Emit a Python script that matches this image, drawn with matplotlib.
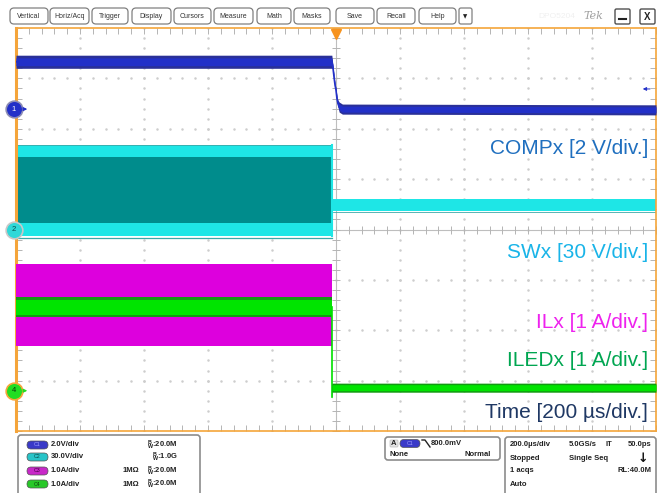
import matplotlib
matplotlib.use("Agg")
import matplotlib.pyplot as plt
import numpy as np
from matplotlib.patches import FancyBboxPatch
from matplotlib.transforms import blended_transform_factory

plt.rcParams["font.family"] = ["Liberation Sans", "DejaVu Sans"]

# --- scope settings -------------------------------------------------------
ch_scale = {"C1": 2.0, "C2": 30.0, "C3": 1.0, "C4": 1.0}      # units / div
ch_pos = {"C1": 2.39, "C2": 0.0, "C3": -3.2, "C4": -3.2}      # div
trig_level = 0.8                                               # V on C1
time_per_div = 200.0                                           # us

# --- traces (time in us, values in V or A) --------------------------------
comp_t = [-1000, -13, -10, -6, -3, 0, 3, 6, 10, 20, 1000]
comp_v = [1.88, 1.88, 1.70, 1.25, 0.95, 0.75, 0.42, 0.22, 0.08, 0.0, -0.03]
comp_hw = [0.26, 0.26, 0.10, 0.08, 0.08, 0.08, 0.10, 0.14, 0.20, 0.20, 0.20]

sw_on_t = [-1000, -13]
sw_high = [46.5, 46.5]
sw_low = [0.0, 0.0]
sw_off_t = [-9, 1000]
sw_off = [14.5, 14.5]
sw_hw = 3.6

il_on_t = [-1000, -13]
il_max = [2.52, 2.52]
il_min = [0.89, 0.89]
il_off_t = [-12, 1000]
il_off = [0.05, 0.05]

led_on_t = [-1000, -13]
led_on = [1.66, 1.66]
led_off_t = [-13, -12, 1000]
led_off = [-0.08, 0.06, 0.06]
led_drop = [1.66, -0.12]
led_hw = 0.2


def to_div(vals, ch):
    return np.asarray(vals, dtype=float) / ch_scale[ch] + ch_pos[ch]


W, H = 664, 493
fig = plt.figure(figsize=(W / 100, H / 100), dpi=100)
fig.patch.set_facecolor("white")

x0, y_top, y_bot, x1 = 16, 28, 431, 656
ax = fig.add_axes([x0 / W, (H - y_bot) / H, (x1 - x0) / W, (y_bot - y_top) / H])
ax.set_xlim(-5 * time_per_div, 5 * time_per_div)
ax.set_ylim(-4, 4)

orange = "#F5A53A"
for side, sp in ax.spines.items():
    sp.set_color(orange)
    sp.set_linewidth(2.2 if side == "left" else 1.2)

# edge ticks every minor division
minor_x = np.arange(-1000, 1001, time_per_div / 5)
minor_y = np.arange(-4, 4.01, 0.2)
ax.set_xticks(minor_x)
ax.set_yticks(minor_y)
ax.tick_params(direction="in", length=4, width=0.7, color="#B4B4B4",
               top=True, right=True, labelbottom=False, labelleft=False)

# dotted graticule
grid_c = "#CDCDCD"
for gx in np.arange(-800, 801, time_per_div):
    if gx != 0:
        ax.plot(np.full_like(minor_y, gx), minor_y, ls="none", marker="o",
                ms=0.8, color=grid_c, zorder=1)
for gy in np.arange(-3, 4, 1):
    if gy != 0:
        ax.plot(minor_x, np.full_like(minor_x, gy), ls="none", marker="o",
                ms=0.8, color=grid_c, zorder=1)
# centre crosshair
ax.axhline(0, color="#BEBEBE", lw=0.8, zorder=1)
ax.axvline(0, color="#BEBEBE", lw=0.8, zorder=1)
ax.plot(minor_x, np.zeros_like(minor_x), ls="none", marker="|", ms=6,
        mew=0.7, color="#B4B4B4", zorder=1)
ax.plot(np.zeros_like(minor_y), minor_y, ls="none", marker="_", ms=6,
        mew=0.7, color="#B4B4B4", zorder=1)

# --- SWx (C2) ---
teal, cyan, dteal = "#008C8C", "#1EE6E6", "#3AA8A8"
ax.fill_between(sw_on_t, to_div(sw_low, "C2"), to_div(sw_high, "C2"),
                color=teal, lw=0, zorder=2)
for lev in (sw_high, sw_low):
    ax.fill_between(sw_on_t, to_div(np.array(lev) - sw_hw, "C2"),
                    to_div(np.array(lev) + sw_hw, "C2"), color=cyan, lw=0, zorder=2)
ax.plot(sw_on_t, to_div(np.array(sw_low) - sw_hw * 1.4, "C2"), color=dteal, lw=0.9, zorder=2)
ax.plot(sw_on_t, to_div(np.array(sw_high) + sw_hw * 1.1, "C2"), color=dteal, lw=0.6, zorder=2)
ax.plot([sw_on_t[-1]] * 2, to_div([sw_low[-1] - sw_hw, sw_high[-1] + sw_hw], "C2"),
        color=cyan, lw=1.5, zorder=2)
ax.fill_between(sw_off_t, to_div(np.array(sw_off) - sw_hw, "C2"),
                to_div(np.array(sw_off) + sw_hw, "C2"), color=cyan, lw=0, zorder=2)
ax.plot(sw_off_t, to_div(np.array(sw_off) - sw_hw * 1.15, "C2"), color=dteal, lw=0.6, zorder=2)

# --- COMPx (C1) ---
cv, chw = np.array(comp_v), np.array(comp_hw)
ax.fill_between(comp_t, to_div(cv - chw, "C1"), to_div(cv + chw, "C1"),
                color="#2A3098", lw=0, zorder=3)
ax.fill_between(comp_t, to_div(cv - chw * 0.6, "C1"), to_div(cv + chw * 0.6, "C1"),
                color="#2230C8", lw=0, zorder=3)
ax.plot(comp_t, to_div(cv, "C1"), color="#2230C8", lw=1.2, zorder=3)

# --- ILx (C3) ---
ax.fill_between(il_on_t, to_div(il_min, "C3"), to_div(il_max, "C3"),
                color="#DD00DD", lw=0, zorder=4)
ax.fill_between(il_off_t, to_div(np.array(il_off) - 0.08, "C3"),
                to_div(np.array(il_off) + 0.08, "C3"), color="#DD00DD", lw=0, zorder=4)

# --- ILEDx (C4) ---
lv = np.array(led_on)
ax.fill_between(led_on_t, to_div(lv - led_hw, "C4"), to_div(lv + led_hw, "C4"),
                color="#129A12", lw=0, zorder=5)
ax.fill_between(led_on_t, to_div(lv - led_hw * 0.75, "C4"), to_div(lv + led_hw * 0.75, "C4"),
                color="#00E400", lw=0, zorder=5)
ax.plot([led_on_t[-1]] * 2, to_div(led_drop, "C4"), color="#00E000", lw=1.2, zorder=5)
lo = np.array(led_off)
ax.fill_between(led_off_t, to_div(lo - 0.09, "C4"), to_div(lo + 0.09, "C4"),
                color="#129A12", lw=0, zorder=5)
ax.fill_between(led_off_t, to_div(lo - 0.06, "C4"), to_div(lo + 0.06, "C4"),
                color="#00E400", lw=0, zorder=5)

# --- channel markers, trigger markers ---
tr = blended_transform_factory(ax.transAxes, ax.transData)
markers = [("C1", "1", "#2230C8", "#8C8CB4", "white"),
           ("C2", "2", "#30D8D8", "#C8C8C8", "#0A4A4A"),
           ("C4", "4", "#22DD22", orange, "#0A3A0A")]
for ch, lab, fc, ec, tc in markers:
    ax.plot([-0.003], [ch_pos[ch]], marker="o", ms=12, mfc=fc, mec=ec, mew=1.2,
            transform=tr, clip_on=False, zorder=10)
    ax.text(-0.003, ch_pos[ch], lab, transform=tr, ha="center", va="center",
            fontsize=5.5, color=tc, zorder=11, clip_on=False)
    if ch != "C2":
        ax.annotate("", xy=(0.022, ch_pos[ch]), xytext=(0.008, ch_pos[ch]),
                    xycoords=tr, textcoords=tr,
                    arrowprops=dict(arrowstyle="-|>", color=fc, lw=0.9,
                                    mutation_scale=5), zorder=10)
trig_y = trig_level / ch_scale["C1"] + ch_pos["C1"]
ax.annotate("", xy=(0.975, trig_y), xytext=(0.995, trig_y), xycoords=tr, textcoords=tr,
            arrowprops=dict(arrowstyle="-|>", color="#2230C8", lw=0.7, mutation_scale=5))
ax.plot([0], [0.985], marker="v", ms=7, color="#F7931E", transform=ax.get_xaxis_transform(),
        clip_on=False, zorder=10)

# --- overlay in pixel coordinates ---
ov = fig.add_axes([0, 0, 1, 1])
ov.set_xlim(0, W)
ov.set_ylim(H, 0)
ov.axis("off")
ov.patch.set_visible(False)


def box(xa, ya, xb, yb, r=3, ec="#808080", lw=0.9, fc="white"):
    ov.add_patch(FancyBboxPatch((xa, ya), xb - xa, yb - ya,
                                boxstyle=f"round,pad=0,rounding_size={r}",
                                ec=ec, fc=fc, lw=lw, zorder=3))


buttons = [("Vertical", 10, 48), ("Horiz/Acq", 50, 89), ("Trigger", 92, 128),
           ("Display", 132, 171), ("Cursors", 174, 211), ("Measure", 214, 253),
           ("Math", 257, 291), ("Masks", 294, 330), ("Save", 336, 374),
           ("Recall", 377, 415), ("Help", 419, 456)]
for name, xa, xb in buttons:
    box(xa, 8, xb, 24, r=4)
    ov.text((xa + xb) / 2, 16.5, name, ha="center", va="center", fontsize=5, color="#333333", zorder=4)
box(459, 8, 472, 24, r=2)
ov.text(465.5, 16.5, "▼", ha="center", va="center", fontsize=4, color="#222222",
        family="DejaVu Sans", zorder=4)
ov.text(557, 16.5, "DPO5204", ha="center", va="center", fontsize=6, color="#F0F0F0")
ov.text(593, 16, "Tek", ha="center", va="center", fontsize=8, color="#A0A0A0",
        family="DejaVu Serif", style="italic")
box(615, 9, 630, 24, r=1.5, ec="#505050", lw=1)
ov.plot([619, 626], [19, 19], color="#222222", lw=1.5, zorder=4)
box(640, 9, 655, 24, r=1.5, ec="#505050", lw=1)
ov.text(647.5, 16.5, "X", ha="center", va="center", fontsize=7, weight="bold", color="#222222", zorder=4)

# channel labels
labels = [("COMPx [2 V/div.]", 148, "#1F6FBF"), ("SWx [30 V/div.]", 253, "#19B4E8"),
          ("ILx [1 A/div.]", 322, "#EE22EE"), ("ILEDx [1 A/div.]", 360, "#00A651"),
          ("Time [200 µs/div.]", 412, "#1F3864")]
for txt, yy, col in labels:
    ov.text(648, yy, txt, ha="right", va="center", fontsize=15, color=col, zorder=5)

# bottom status panels
box(18, 435, 200, 500, r=3, ec="#8C8C8C", lw=1.2)
box(385, 437, 500, 460, r=3, ec="#8C8C8C", lw=1.2)
box(505, 437, 656, 500, r=3, ec="#8C8C8C", lw=1.2)

pill_cols = {"C1": ("#3A3AC8", "#A0A0FF"), "C2": ("#28C4C8", "#0A4A4A"),
             "C3": ("#C828C8", "#400040"), "C4": ("#28C828", "#0A400A")}
bw = {"C1": "20.0M", "C2": "1.0G", "C3": "20.0M", "C4": "20.0M"}
sty = dict(fontsize=5.5, weight="bold", color="#222222", va="center", zorder=5)
for i, ch in enumerate(["C1", "C2", "C3", "C4"]):
    yy = [445, 457, 471, 484][i]
    box(27, yy - 4, 48, yy + 4, r=4, ec="#555555", lw=0.5, fc=pill_cols[ch][0])
    ov.text(37.5, yy, ch, ha="center", va="center", fontsize=3.8, color=pill_cols[ch][1], zorder=6)
    unit = "V" if ch in ("C1", "C2") else "A"
    ov.text(51, yy, f"{ch_scale[ch]:.1f}{unit}/div", ha="left", **sty)
    ov.text(178, yy, r"$\mathregular{^B_W}$:" + bw[ch], ha="right", **sty)
    if ch in ("C3", "C4"):
        ov.text(123, yy, "1MΩ", ha="left", **sty)

box(390, 440, 398, 447, r=1, ec="#BBBBBB", lw=0.5, fc="#E4E4E4")
ov.text(394, 443.5, "A", ha="center", **sty)
box(400, 439.5, 420, 447.5, r=4, ec="#555555", lw=0.5, fc=pill_cols["C1"][0])
ov.text(410, 443.5, "C1", ha="center", va="center", fontsize=3.8, color="#A0A0FF", zorder=6)
ov.plot([422, 425, 430], [440, 440, 447], color="#222222", lw=1, zorder=5)
ov.text(431, 443.5, f"{trig_level * 1000:.1f}mV", ha="left", **sty)
ov.text(389, 454, "None", ha="left", **sty)
ov.text(491, 454, "Normal", ha="right", **sty)

ov.text(510, 445, f"{time_per_div:.1f}µs/div", ha="left", **sty)
ov.text(569, 445, "5.0GS/s", ha="left", **sty)
ov.text(606, 445, "IT", ha="left", **sty)
ov.text(651, 445, "50.0ps", ha="right", **sty)
ov.text(510, 458, "Stopped", ha="left", **sty)
ov.text(569, 458, "Single Seq", ha="left", **sty)
ov.text(643, 458, "↓", ha="center", va="center", fontsize=9, weight="bold",
        color="#111111", family="DejaVu Sans", zorder=5)
ov.text(510, 471, "1 acqs", ha="left", **sty)
ov.text(651, 471, "RL:40.0M", ha="right", **sty)
ov.text(510, 484, "Auto", ha="left", **sty)

fig.savefig("out.png", dpi=100)
